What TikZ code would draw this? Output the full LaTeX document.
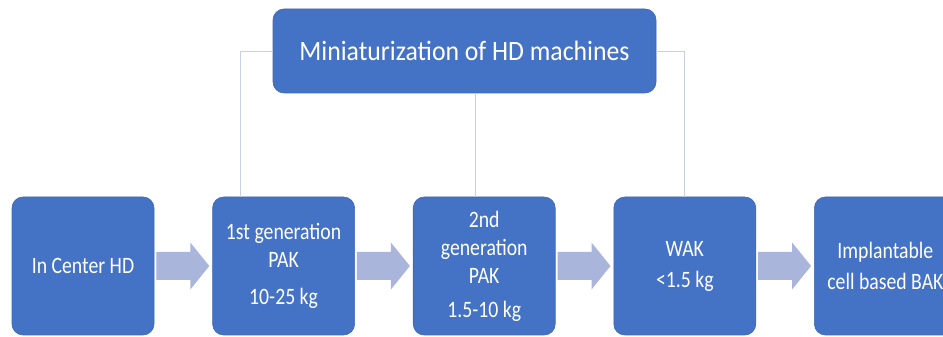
\documentclass[tikz,border=0pt]{standalone}
\usepackage{fontspec}
\setmainfont{Carlito}[FakeStretch=0.92]
\newfontfamily\stagefont{Carlito}[FakeStretch=0.84]
\usetikzlibrary{positioning,calc}
\definecolor{boxblue}{HTML}{4472C4}
\definecolor{boxedge}{HTML}{3D67B4}
\definecolor{flowblue}{HTML}{A9B5DB}
\definecolor{linkgray}{HTML}{C6D0E6}
% block arrow between two stages
\newcommand{\flowarrow}[2]{%
  \fill[flowblue] ($(#1.east)+(2,14)$) -- ($(#1.east)+(36,14)$)
    -- ($(#1.east)+(36,23.5)$) -- ($(#2.west)+(-3,0)$)
    -- ($(#1.east)+(36,-23.5)$) -- ($(#1.east)+(36,-14)$)
    -- ($(#1.east)+(2,-14)$) -- cycle;}

\begin{document}
\begin{tikzpicture}[x=1pt, y=1pt,
    stage/.style={draw=boxedge, line width=0.6pt, fill=boxblue,
      rounded corners=11pt, minimum width=142pt, minimum height=138pt,
      inner sep=2pt, align=center, text=white,
      font=\stagefont\fontsize{23.5}{28}\selectfont},
    title/.style={stage, minimum width=383pt, minimum height=84pt,
      font=\fontsize{28}{32}\selectfont},
    link/.style={draw=linkgray, line width=0.9pt}]
  \useasboundingbox (0,0) rectangle (943,337);

  % top box
  \node[title] (mini) at (464.5,286) {Miniaturization of HD machines};

  % the five stages
  \node[stage] (center) at (83,71) {In Center HD};
  \node[stage, right=58pt of center] (pak1) {1st generation\\PAK\\[9pt]10-25 kg};
  \node[stage, right=58pt of pak1] (pak2) {2nd\\generation\\PAK\\[6pt]1.5-10 kg};
  \node[stage, right=58pt of pak2] (wak) {WAK\\[3pt]<1.5 kg};
  \node[stage, right=58pt of wak] (bak) {Implantable\\[3pt]cell based BAK};

  \flowarrow{center}{pak1}
  \flowarrow{pak1}{pak2}
  \flowarrow{pak2}{wak}
  \flowarrow{wak}{bak}

  % thin links from the top box
  \draw[link] (mini.west) -| ([xshift=-43pt]pak1.north);
  \draw[link] ([xshift=-9pt]pak2.north) -- ([xshift=-9pt]pak2.north |- mini.south);
  \draw[link] (mini.east) -| (wak.north);
\end{tikzpicture}
\end{document}
